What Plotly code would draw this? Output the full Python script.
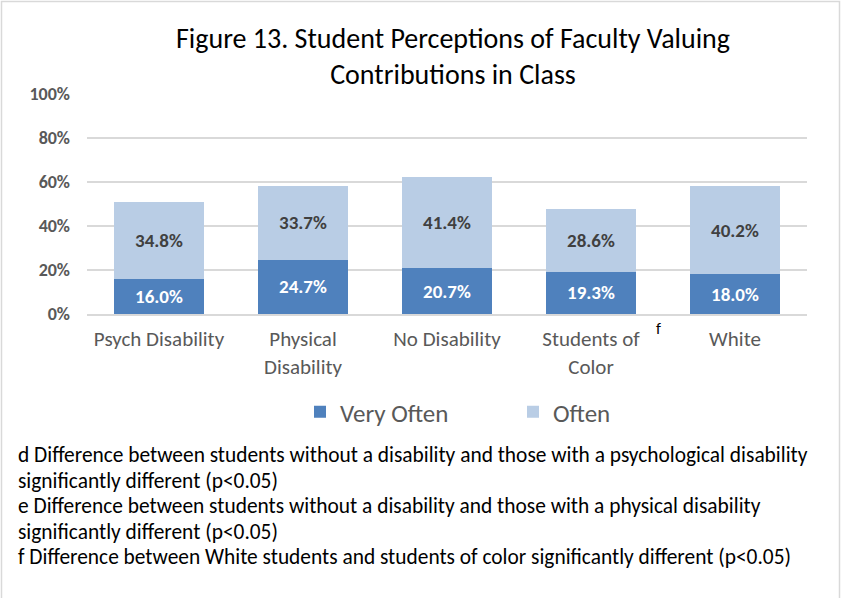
import plotly.graph_objects as go

categories = ["Psych Disability", "Physical<br>Disability", "No Disability", "Students of<br>Color", "White"]
very_often = [16.0, 24.7, 20.7, 19.3, 18.0]
often = [34.8, 33.7, 41.4, 28.6, 40.2]
y_ticks = [0, 20, 40, 60, 80, 100]
y_tick_labels = ["0%", "20%", "40%", "60%", "80%", "100%"]
title_text = "Figure 13. Student Perceptions of Faculty Valuing<br>Contributions in Class"
footnotes = [
    "d Difference between students without a disability and those with a psychological disability",
    "significantly different (p<0.05)",
    "e Difference between students without a disability and those with a physical disability",
    "significantly different (p<0.05)",
    "f Difference between White students and students of color significantly different (p<0.05)",
]

W, H = 841, 598
ML, MR, MT, MB = 87, 34, 94, 284
PW, PH = W - ML - MR, H - MT - MB

def px_x(x):
    return (x - ML) / PW

def px_y(y):
    return (H - MB - y) / PH

FONT = "Carlito, 'Liberation Sans Narrow', 'DejaVu Sans Condensed', sans-serif"

fig = go.Figure()
fig.add_trace(go.Bar(
    x=categories, y=very_often, name="Very Often",
    marker=dict(color="#4F81BD", line=dict(width=0)),
    text=[f"{v:.1f}%" for v in very_often], textposition="inside",
    insidetextanchor="middle",
    textfont=dict(family=FONT, size=19, color="white", weight="bold"),
))
fig.add_trace(go.Bar(
    x=categories, y=often, name="Often",
    marker=dict(color="#B9CDE5", line=dict(width=0)),
    text=[f"{v:.1f}%" for v in often], textposition="inside",
    insidetextanchor="middle",
    textfont=dict(family=FONT, size=19, color="#404040", weight="bold"),
))

annotations = [dict(
    text=title_text, x=px_x(453), y=px_y(56), xref="paper", yref="paper",
    showarrow=False, font=dict(family=FONT, size=28, color="black"),
    xanchor="center", yanchor="middle", align="center",
)]
annotations.append(dict(
    text="f", x=px_x(658), y=px_y(328), xref="paper", yref="paper",
    showarrow=False, font=dict(family=FONT, size=16, color="black"),
    xanchor="center", yanchor="middle",
))
for i, line in enumerate(footnotes):
    annotations.append(dict(
        text=line, x=px_x(16), y=px_y(455 + i * 25.5), xref="paper", yref="paper",
        showarrow=False, font=dict(family=FONT, size=21.4, color="black"),
        xanchor="left", yanchor="middle", align="left",
    ))

fig.update_layout(
    width=W, height=H,
    margin=dict(l=ML, r=MR, t=MT, b=MB, autoexpand=False),
    barmode="stack", bargap=0.38,
    plot_bgcolor="white", paper_bgcolor="white",
    font=dict(family=FONT, color="#595959"),
    yaxis=dict(
        range=[0, 100], tickvals=y_ticks, ticktext=y_tick_labels,
        showgrid=True, gridcolor="#D9D9D9", gridwidth=2,
        zeroline=False, showline=False, ticks="",
        tickfont=dict(family=FONT, size=18, color="#595959", weight="bold"),
        ticklabelstandoff=16,
    ),
    xaxis=dict(
        showline=True, linecolor="#D9D9D9", linewidth=2, ticks="",
        tickfont=dict(family=FONT, size=21, color="#595959"),
        ticklabelstandoff=5,
    ),
    showlegend=True,
    legend=dict(
        orientation="h", traceorder="normal",
        x=px_x(300), xanchor="left", y=px_y(412), yanchor="middle",
        font=dict(family=FONT, size=25, color="#595959"),
        itemwidth=30, entrywidth=168,
    ),
    annotations=annotations,
    shapes=[dict(
        type="rect", xref="paper", yref="paper",
        x0=px_x(1.5), x1=px_x(839.5), y0=px_y(600), y1=px_y(1.5),
        line=dict(color="#D9D9D9", width=1.5), fillcolor="rgba(0,0,0,0)", layer="below",
    )],
)

fig.write_html(
    "out.html",
    config={"displayModeBar": False},
    post_script="document.body.style.margin='0';document.body.style.overflow='hidden';",
)
